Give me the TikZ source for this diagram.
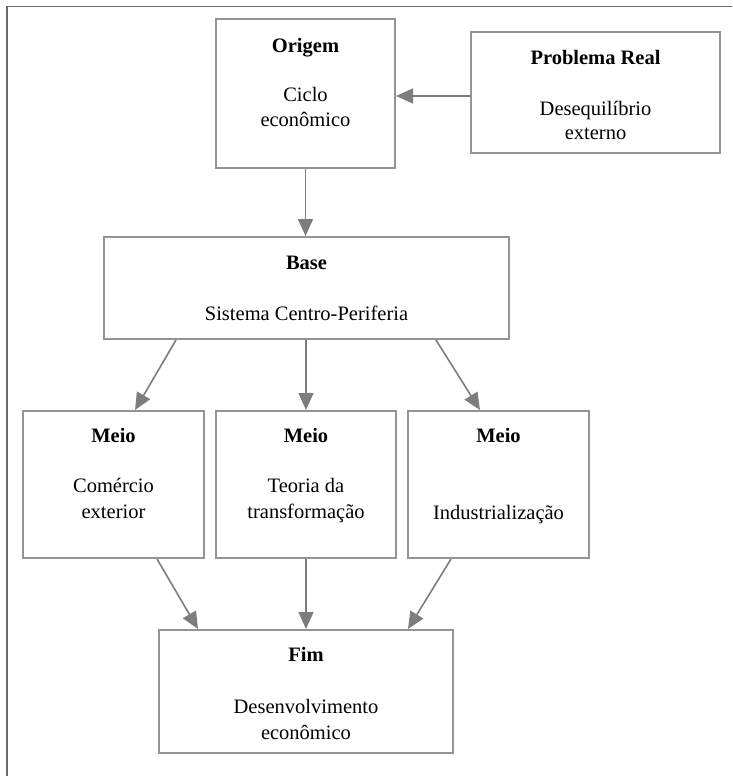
\documentclass[tikz,border=0pt]{standalone}
\usepackage{fontspec}
\setmainfont{Liberation Serif}
\usetikzlibrary{arrows.meta}
\definecolor{boxgray}{RGB}{148,148,148}
\definecolor{arrgray}{RGB}{125,125,125}
\definecolor{framegray}{RGB}{105,105,105}
\begin{document}
\begin{tikzpicture}[x=1pt,y=-1pt,
  box/.style={draw=boxgray,line width=2pt,inner sep=0pt,fill=white},
  ttl/.style={anchor=base,inner sep=0pt,font=\fontsize{20.5}{25}\selectfont\bfseries},
  txt/.style={anchor=base,inner sep=0pt,font=\fontsize{20.5}{25}\selectfont},
  arr/.style={draw=arrgray,line width=1.6pt,-{Triangle[length=17pt,width=15pt]}}]
\useasboundingbox (0,0) rectangle (732,776);
\fill[white] (0,0) rectangle (732,776);
\draw[framegray,line width=1.5pt] (732,6.5) -- (7,6.5) -- (7,776);

% boxes
\node[box,minimum width=179pt,minimum height=149pt] (origem) at (305.5,93.5) {};
\node[box,minimum width=249pt,minimum height=121pt] (prob) at (595.5,92.5) {};
\node[box,minimum width=405pt,minimum height=102pt] (base) at (306.5,288) {};
\node[box,minimum width=181pt,minimum height=147pt] (meioa) at (113.5,484.5) {};
\node[box,minimum width=180pt,minimum height=147pt] (meiob) at (306,484.5) {};
\node[box,minimum width=181pt,minimum height=147pt] (meioc) at (498.5,484.5) {};
\node[box,minimum width=294pt,minimum height=123pt] (fim) at (306,691.5) {};

% texts
\node[ttl] (t1) at (305.5,52.7) {Origem};
\node[txt] (t1a) at (305.5,101.7) {Ciclo};
\node[txt] (t1b) at (305.5,126.7) {econômico};

\node[ttl] (t2) at (595.5,64) {Problema Real};
\node[txt] (t2a) at (595.5,115) {Desequilíbrio};
\node[txt] (t2b) at (595.5,139.5) {externo};

\node[ttl] (t3) at (306.5,269) {Base};
\node[txt] (t3a) at (306.5,320) {Sistema Centro-Periferia};

\node[ttl] (t4) at (113.5,442.7) {Meio};
\node[txt] (t4a) at (113.5,492.7) {Comércio};
\node[txt] (t4b) at (113.5,518.7) {exterior};

\node[ttl] (t5) at (306,442.7) {Meio};
\node[txt] (t5a) at (306,492.7) {Teoria da};
\node[txt] (t5b) at (306,518.7) {transformação};

\node[ttl] (t6) at (498.5,442.7) {Meio};
\node[txt] (t6a) at (498.5,519) {Industrialização};

\node[ttl] (t7) at (306,661.7) {Fim};
\node[txt] (t7a) at (306,713) {Desenvolvimento};
\node[txt] (t7b) at (306,739) {econômico};

% connectors
\draw[arr] ([yshift=-3.5pt]prob.west) -- ([yshift=-3.5pt]prob.west -| origem.east);
\draw[arr] (origem.south) -- (origem.south |- base.north);
\draw[arr] ([xshift=-130.5pt]base.south) -- ([xshift=21.5pt]meioa.north);
\draw[arr] (meiob.north |- base.south) -- (meiob.north);
\draw[arr] ([xshift=129.5pt]base.south) -- ([xshift=-18.5pt]meioc.north);
\draw[arr] ([xshift=43.5pt]meioa.south) -- ([xshift=-108pt]fim.north);
\draw[arr] (meiob.south) -- (fim.north);
\draw[arr] ([xshift=-47.5pt]meioc.south) -- ([xshift=102pt]fim.north);
\end{tikzpicture}
\end{document}
